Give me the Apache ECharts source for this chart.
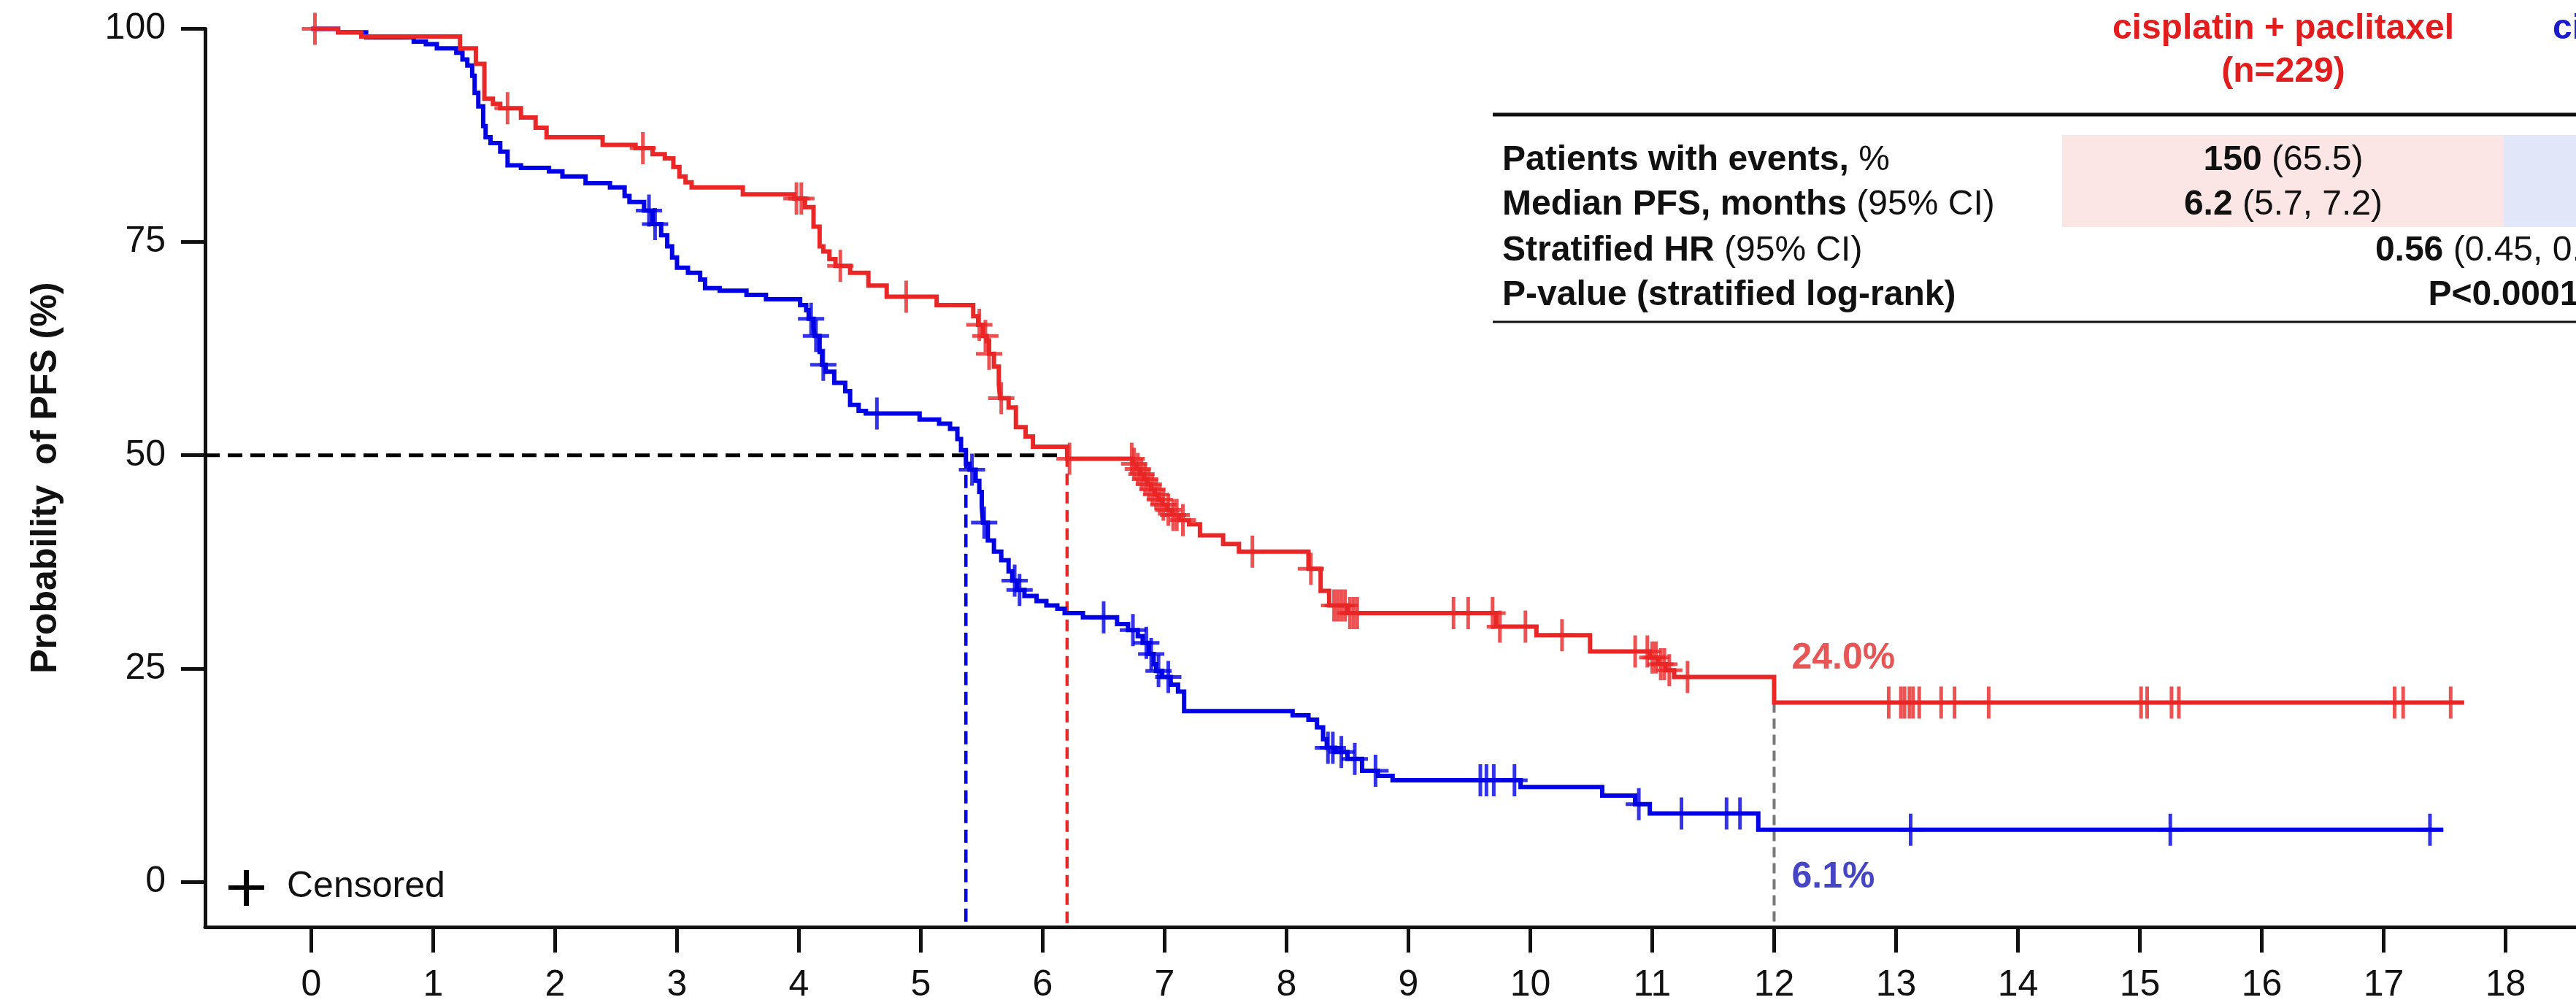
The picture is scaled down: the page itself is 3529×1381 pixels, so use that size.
<!DOCTYPE html>
<html>
<head>
<meta charset="utf-8">
<title>Progression-free survival</title>
<script src="https://cdn.jsdelivr.net/npm/echarts@6/dist/echarts.min.js"></script>
<style>
  html, body { margin: 0; padding: 0; background: #ffffff; }
  #chart { width: 3529px; height: 1381px; }
</style>
</head>
<body>
<div id="chart"></div>
<script>
// ---------- data ----------
const xTicks = [0, 1, 2, 3, 4, 5, 6, 7, 8, 9, 10, 11, 12, 13, 14, 15, 16, 17, 18];
const yTicks = [0, 25, 50, 75, 100];

// Kaplan-Meier steps: [month, PFS %] (value after the step)
const redCurve = [
  [0, 100], [0.22, 99.6], [0.41, 99.1], [1.22, 97.7], [1.35, 95.9], [1.42, 91.8], [1.49, 91.2],
  [1.55, 90.7], [1.72, 89.6], [1.84, 88.4], [1.93, 87.3], [2.39, 86.4], [2.66, 86.0], [2.80, 85.3],
  [2.90, 84.8], [2.97, 83.8], [3.02, 82.7], [3.07, 82.0], [3.12, 81.4], [3.54, 80.6], [3.96, 80.1],
  [4.05, 79.1], [4.12, 76.8], [4.17, 74.5], [4.20, 73.9], [4.25, 73.0], [4.30, 72.2], [4.42, 71.4],
  [4.57, 69.9], [4.72, 68.6], [5.13, 67.6], [5.43, 66.3], [5.47, 65.3], [5.51, 64.0], [5.54, 63.4],
  [5.56, 61.9], [5.60, 60.4], [5.64, 58.3], [5.65, 56.7], [5.72, 55.6], [5.78, 53.3], [5.86, 52.2],
  [5.92, 51.0], [6.20, 49.6], [6.74, 49.0], [6.77, 48.4], [6.80, 47.8], [6.83, 47.2], [6.86, 46.6],
  [6.89, 46.0], [6.92, 45.4], [6.95, 44.8], [6.98, 44.2], [7.02, 43.6], [7.06, 43.0], [7.12, 42.4],
  [7.20, 41.9], [7.29, 40.6], [7.48, 39.6], [7.61, 38.7], [8.18, 36.7], [8.28, 34.1], [8.35, 32.4],
  [8.50, 31.5], [9.72, 29.9], [10.05, 28.9], [10.49, 27.0], [10.98, 26.3], [11.05, 25.5],
  [11.11, 24.8], [11.18, 24.0], [12.00, 21.0], [17.66, 21.0]
];
const blueCurve = [
  [0, 100], [0.22, 99.6], [0.45, 99.0], [0.84, 98.5], [0.94, 98.2], [1.03, 97.7], [1.19, 97.2],
  [1.24, 96.4], [1.28, 95.7], [1.32, 94.5], [1.34, 92.5], [1.37, 90.9], [1.41, 88.6], [1.43, 87.3],
  [1.47, 86.6], [1.55, 85.6], [1.61, 84.0], [1.72, 83.7], [1.95, 83.3], [2.06, 82.7], [2.25, 81.9],
  [2.45, 81.4], [2.57, 80.4], [2.61, 79.7], [2.73, 78.7], [2.80, 77.1], [2.87, 75.8], [2.92, 74.5],
  [2.96, 73.2], [3.00, 72.0], [3.09, 71.4], [3.19, 70.6], [3.23, 69.6], [3.35, 69.3], [3.57, 68.8],
  [3.73, 68.3], [4.01, 67.6], [4.06, 67.0], [4.08, 66.0], [4.12, 65.0], [4.13, 64.0], [4.17, 62.1],
  [4.19, 60.6], [4.22, 59.8], [4.29, 58.5], [4.38, 57.5], [4.42, 55.9], [4.49, 55.2], [4.55, 54.9],
  [4.99, 54.2], [5.15, 53.7], [5.24, 53.1], [5.30, 51.9], [5.33, 50.6], [5.37, 49.0], [5.40, 48.3],
  [5.45, 47.0], [5.48, 45.7], [5.50, 44.0], [5.51, 42.1], [5.55, 40.0], [5.60, 38.7], [5.66, 37.7],
  [5.72, 36.4], [5.75, 35.3], [5.79, 34.2], [5.85, 33.5], [5.95, 32.9], [6.03, 32.4], [6.12, 32.0],
  [6.18, 31.5], [6.33, 31.0], [6.61, 30.2], [6.70, 29.5], [6.78, 28.8], [6.82, 28.0], [6.87, 26.7],
  [6.91, 25.5], [6.93, 24.7], [6.98, 24.0], [7.05, 23.1], [7.11, 22.3], [7.16, 20.0], [8.05, 19.5],
  [8.18, 19.0], [8.25, 18.1], [8.30, 16.7], [8.33, 15.7], [8.40, 15.2], [8.50, 14.4], [8.62, 13.0],
  [8.75, 12.4], [8.87, 11.9], [9.92, 11.1], [10.59, 10.1], [10.86, 9.1], [10.98, 8.0], [11.87, 6.1],
  [17.49, 6.1]
];

// censoring times (months)
const redCensored = [
  0.03, 1.61, 2.72, 3.98, 4.02, 4.34, 4.88, 5.48, 5.53, 5.56, 5.66, 6.22, 6.73, 6.75, 6.78, 6.81,
  6.84, 6.87, 6.90, 6.93, 6.96, 6.99, 7.03, 7.07, 7.10, 7.15, 7.72, 8.20, 8.39, 8.42, 8.45, 8.48,
  8.52, 8.55, 8.58, 9.37, 9.49, 9.69, 9.75, 9.96, 10.26, 10.86, 10.96, 11.00, 11.03, 11.07, 11.10,
  11.14, 11.29, 12.94, 13.04, 13.07, 13.11, 13.14, 13.19, 13.37, 13.48, 13.76, 15.01, 15.06, 15.26,
  15.32, 17.09, 17.16, 17.55
];
const blueCensored = [
  2.77, 2.82, 4.10, 4.14, 4.20, 4.64, 5.42, 5.52, 5.77, 5.81, 6.50, 6.74, 6.85, 6.89, 6.95, 7.03,
  8.34, 8.38, 8.45, 8.56, 8.73, 9.59, 9.64, 9.70, 9.87, 10.89, 11.24, 11.61, 11.72, 13.12, 15.25,
  17.38
];

const medians = { red: 6.2, blue: 5.37 };
const landmarkMonth = 12;
const landmarkValues = { red: 24.0, blue: 6.1 };

// summary table
const headerRed = ['cisplatin + paclitaxel', '(n=229)'];
const headerBlue = ['cisplatin'];
const rowLabels = [
  ['Patients with events,', ' %'],
  ['Median PFS, months', ' (95% CI)'],
  ['Stratified HR', ' (95% CI)'],
  ['P-value (stratified log-rank)', '']
];
const redColumn = [['150', ' (65.5)'], ['6.2', ' (5.7, 7.2)']];
const pooledColumn = [['0.56', ' (0.45, 0.70)'], ['P<0.0001', '']];

// ---------- styling / layout ----------
const FONT = '"Liberation Sans", Arial, Helvetica, sans-serif';
const RED = '#ea2626';
const BLUE = '#0000e6';
const INK = '#111111';
const X_MIN = -0.871, X_MAX = 18.578;
const Y_MIN = -5.31, Y_MAX = 100;

const TBL = {
  labelX: 2058, ruleX: 2045, redX: 3128, pooledX: 3430, blueHeadX: 3497,
  headY: [40, 99], ruleTop: 157, rows: [220, 281, 344, 405], ruleBottom: 441,
  shadeTop: 185, shadeBottom: 311, shadeRedLeft: 2825, shadeSplit: 3430
};

function survivalAt(curve, t) {
  let s = curve[0][1];
  for (const p of curve) { if (p[0] <= t) s = p[1]; else break; }
  return s;
}

// "+" censor glyph, 36 x 44 box with 5 px arms
const CROSS = 'path://M15.5,0H20.5V19.5H36V24.5H20.5V44H15.5V24.5H0V19.5H15.5Z';

function richText(bold, rest) {
  return (bold ? '{b|' + bold + '}' : '') + (rest ? '{r|' + rest + '}' : '');
}
function richStyles(color) {
  return {
    b: { fontFamily: FONT, fontSize: 48, fontWeight: 'bold', fill: color },
    r: { fontFamily: FONT, fontSize: 48, fontWeight: 'normal', fill: color }
  };
}
function tableText(x, y, bold, rest, align, color) {
  return {
    type: 'text', x: x, y: y, silent: true,
    style: {
      text: richText(bold, rest), rich: richStyles(color || INK),
      align: align, verticalAlign: 'middle', fill: color || INK,
      fontFamily: FONT, fontSize: 48
    }
  };
}

const graphics = [];
// cell shading
graphics.push({ type: 'rect', silent: true, z: -1,
  shape: { x: TBL.shadeRedLeft, y: TBL.shadeTop, width: TBL.shadeSplit - TBL.shadeRedLeft, height: TBL.shadeBottom - TBL.shadeTop },
  style: { fill: '#fce5e5' } });
graphics.push({ type: 'rect', silent: true, z: -1,
  shape: { x: TBL.shadeSplit, y: TBL.shadeTop, width: 3529 - TBL.shadeSplit, height: TBL.shadeBottom - TBL.shadeTop },
  style: { fill: '#e1e6f8' } });
// rules
graphics.push({ type: 'line', silent: true, shape: { x1: TBL.ruleX, y1: TBL.ruleTop, x2: 3529, y2: TBL.ruleTop },
  style: { stroke: '#111', lineWidth: 5 } });
graphics.push({ type: 'line', silent: true, shape: { x1: TBL.ruleX, y1: TBL.ruleBottom, x2: 3529, y2: TBL.ruleBottom },
  style: { stroke: '#111', lineWidth: 3 } });
// headers
headerRed.forEach((h, i) => graphics.push(tableText(TBL.redX, TBL.headY[i], h, '', 'center', '#e31d1d')));
headerBlue.forEach((h, i) => graphics.push(tableText(TBL.blueHeadX, TBL.headY[i], h, '', 'left', '#1b1bcf')));
// rows
rowLabels.forEach((r, i) => graphics.push(tableText(TBL.labelX, TBL.rows[i], r[0], r[1], 'left')));
redColumn.forEach((c, i) => graphics.push(tableText(TBL.redX, TBL.rows[i], c[0], c[1], 'center')));
pooledColumn.forEach((c, i) => graphics.push(tableText(TBL.pooledX, TBL.rows[i + 2], c[0], c[1], 'center')));
// censored key
graphics.push({ type: 'rect', silent: true, shape: { x: 334, y: 1192, width: 7, height: 49 }, style: { fill: '#000' } });
graphics.push({ type: 'rect', silent: true, shape: { x: 313, y: 1213, width: 49, height: 6 }, style: { fill: '#000' } });
graphics.push({ type: 'text', x: 393, y: 1215, silent: true,
  style: { text: 'Censored', fontFamily: FONT, fontSize: 50, fill: INK, align: 'left', verticalAlign: 'middle' } });

function censorPoints(curve, times) {
  return times.map(t => [t, survivalAt(curve, t)]);
}

const chart = echarts.init(document.getElementById('chart'), null, { renderer: 'canvas' });
chart.setOption({
  animation: false,
  backgroundColor: '#ffffff',
  textStyle: { fontFamily: FONT },
  grid: { left: 281, right: 0, top: 39.5, bottom: 111, containLabel: false, outerBoundsMode: 'none' },
  xAxis: {
    type: 'value', min: X_MIN, max: X_MAX,
    axisLine: { show: true, onZero: false, lineStyle: { color: INK, width: 5 } },
    axisTick: { show: true, customValues: xTicks, length: 35, lineStyle: { color: INK, width: 5 } },
    axisLabel: { show: true, customValues: xTicks, margin: 55, fontSize: 50, color: INK, fontFamily: FONT },
    splitLine: { show: false }
  },
  yAxis: {
    type: 'value', min: Y_MIN, max: Y_MAX,
    name: 'Probability  of PFS (%)', nameLocation: 'middle', nameGap: 193, nameRotate: 90,
    nameTextStyle: { fontSize: 50, fontWeight: 'bold', color: INK, fontFamily: FONT },
    axisLine: { show: true, onZero: false, lineStyle: { color: INK, width: 5 } },
    axisTick: { show: true, customValues: yTicks, length: 33, lineStyle: { color: INK, width: 5 } },
    axisLabel: { show: true, customValues: yTicks, margin: 54, fontSize: 50, color: INK, fontFamily: FONT },
    splitLine: { show: false }
  },
  graphic: graphics,
  series: [
    { type: 'line', name: 'median reference', silent: true, clip: false, symbol: 'none', z: 1,
      data: [[X_MIN, 50], [medians.red, 50]], lineStyle: { color: '#000', width: 5, type: [20, 11] } },
    { type: 'line', name: 'median blue', silent: true, clip: false, symbol: 'none', z: 1,
      data: [[medians.blue, 50], [medians.blue, Y_MIN]], lineStyle: { color: BLUE, width: 4.5, type: [18, 9] } },
    { type: 'line', name: 'median red', silent: true, clip: false, symbol: 'none', z: 1,
      data: [[medians.red, 50], [medians.red, Y_MIN]], lineStyle: { color: RED, width: 4.5, type: [16, 9] } },
    { type: 'line', name: 'landmark', silent: true, clip: false, symbol: 'none', z: 1,
      data: [[landmarkMonth, survivalAt(redCurve, landmarkMonth)], [landmarkMonth, Y_MIN]],
      lineStyle: { color: '#777', width: 4, type: [14, 8] } },
    { type: 'line', name: 'blue arm', step: 'end', silent: true, clip: false, symbol: 'none', z: 3,
      data: blueCurve, lineStyle: { color: BLUE, width: 6, join: 'miter', cap: 'butt' } },
    { type: 'line', name: 'cisplatin + paclitaxel', step: 'end', silent: true, clip: false, symbol: 'none', z: 3,
      data: redCurve, lineStyle: { color: RED, width: 6, join: 'miter', cap: 'butt' } },
    { type: 'scatter', name: 'blue censored', silent: true, clip: false, z: 4,
      symbol: CROSS, symbolSize: [36, 44], itemStyle: { color: BLUE },
      data: censorPoints(blueCurve, blueCensored) },
    { type: 'scatter', name: 'red censored', silent: true, clip: false, z: 4,
      symbol: CROSS, symbolSize: [36, 44], itemStyle: { color: RED },
      data: censorPoints(redCurve, redCensored) },
    { type: 'scatter', name: 'landmark rates', silent: true, clip: false, z: 5,
      symbolSize: 0,
      label: { show: true, position: 'right', distance: 24, fontSize: 50, fontWeight: 'bold', fontFamily: FONT,
        formatter: p => p.value[1].toFixed(1) + '%' },
      data: [
        { value: [landmarkMonth, landmarkValues.red], label: { color: '#e22b2b', offset: [0, -25] } },
        { value: [landmarkMonth, landmarkValues.blue], label: { color: '#1616b8', offset: [0, 66] } }
      ] }
  ]
});
</script>
</body>
</html>
